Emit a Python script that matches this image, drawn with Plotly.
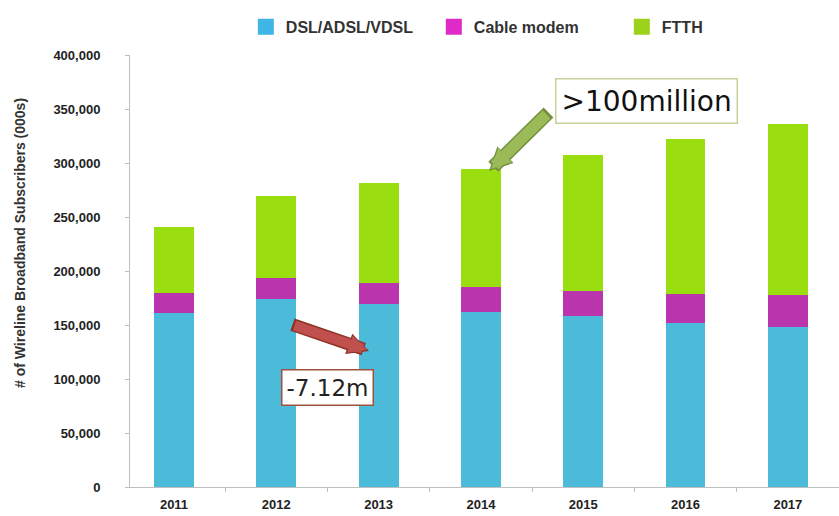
import plotly.graph_objects as go

years = ["2011", "2012", "2013", "2014", "2015", "2016", "2017"]
dsl = [161000, 173800, 169400, 162300, 158300, 151600, 147900]
cable = [18600, 19400, 19200, 22600, 23500, 26800, 29900]
ftth = [61400, 76200, 92600, 109300, 125600, 143500, 158300]

y_ticks = [0, 50000, 100000, 150000, 200000, 250000, 300000, 350000, 400000]

series_names = ["DSL/ADSL/VDSL", "Cable modem", "FTTH"]
bar_colors = ["#4CBBDA", "#BA34AE", "#9ADE10"]
legend_colors = ["#3FB6E6", "#E02AC8", "#9AD31A"]

FONT = "Liberation Sans, Arial, sans-serif"
BOX_FONT = "DejaVu Sans, sans-serif"

fig = go.Figure()
for name, vals, col in zip(series_names, [dsl, cable, ftth], bar_colors):
    fig.add_trace(go.Bar(name=name, x=years, y=vals, showlegend=False,
                         marker=dict(color=col, line=dict(width=0))))
# legend entries with large square symbols
for name, col in zip(series_names, legend_colors):
    fig.add_trace(go.Scatter(name=name, x=[None], y=[None], mode="markers",
                             marker=dict(symbol="square", size=16, color=col)))

W, H = 839, 516
L, R, T, B = 130, 0, 55, 29

fig.update_layout(
    width=W, height=H,
    barmode="stack",
    bargap=0.61,
    plot_bgcolor="white",
    paper_bgcolor="white",
    margin=dict(l=L, r=R, t=T, b=B, pad=0, autoexpand=False),
    font=dict(family=FONT, size=13, color="#222222"),
    legend=dict(
        orientation="h", xref="container", yref="container",
        x=0.293, xanchor="left", y=0.948, yanchor="middle",
        font=dict(family=FONT, size=16, color="#333333", weight="bold"),
        traceorder="normal", itemwidth=30, itemsizing="trace",
        entrywidth=143,
    ),
    xaxis=dict(
        type="category", range=[-0.43, 6.5], automargin=False,
        showline=True, linecolor="#BFBFBF", linewidth=1,
        ticks="outside", tickson="boundaries", ticklen=4, tickcolor="#BFBFBF",
        tickfont=dict(family=FONT, size=13, color="#222222", weight="bold"),
        ticklabelstandoff=5,
        showgrid=False,
    ),
    yaxis=dict(
        range=[0, 400000], tickvals=y_ticks, tickformat=",", automargin=False,
        showline=True, linecolor="#BFBFBF", linewidth=1,
        ticks="outside", ticklen=4, tickcolor="#BFBFBF",
        tickfont=dict(family=FONT, size=13, color="#222222", weight="bold"),
        ticklabelstandoff=22,
        showgrid=False, zeroline=False,
    ),
)

pw = W - L - R
ph = H - T - B

def px(xp):
    return (xp - L) / pw

def py(yp):
    return (H - B - yp) / ph

# y-axis title
fig.add_annotation(x=px(20), y=py(243), xref="paper", yref="paper",
                   xanchor="center", yanchor="middle",
                   text="# of Wireline Broadband Subscribers (000s)", textangle=-90,
                   showarrow=False,
                   font=dict(family=FONT, size=14, color="#333333", weight="bold"))

# green arrow pointing to 2014 bar top
fig.add_annotation(x=px(489), y=py(171), xref="paper", yref="paper", text="",
                   showarrow=True, ax=61, ay=-60, arrowhead=2, arrowsize=0.33,
                   arrowwidth=14, arrowcolor="#74903F", standoff=0)
fig.add_annotation(x=px(491), y=py(169), xref="paper", yref="paper", text="",
                   showarrow=True, ax=57, ay=-56, arrowhead=2, arrowsize=0.36,
                   arrowwidth=11, arrowcolor="#9BBB59", standoff=0)
# red arrow
fig.add_annotation(x=px(369), y=py(351), xref="paper", yref="paper", text="",
                   showarrow=True, ax=-78, ay=-27, arrowhead=2, arrowsize=0.33,
                   arrowwidth=13, arrowcolor="#8E3326", standoff=0)
fig.add_annotation(x=px(367), y=py(350), xref="paper", yref="paper", text="",
                   showarrow=True, ax=-74, ay=-25, arrowhead=2, arrowsize=0.36,
                   arrowwidth=10, arrowcolor="#C0504D", standoff=0)

fig.add_annotation(x=px(646), y=py(101), xref="paper", yref="paper",
                   xanchor="center", yanchor="middle",
                   text=">100million", showarrow=False,
                   font=dict(family=BOX_FONT, size=28, color="#111111"),
                   bgcolor="white", bordercolor="#C5D49A", borderwidth=1.5, borderpad=5)
fig.add_annotation(x=px(327), y=py(387), xref="paper", yref="paper",
                   xanchor="center", yanchor="middle",
                   text="-7.12m", showarrow=False,
                   font=dict(family=BOX_FONT, size=23, color="#222222"),
                   bgcolor="white", bordercolor="#A0503F", borderwidth=1.5, borderpad=4)

fig.write_html("out.html", config={"displayModeBar": False},
               post_script="document.body.style.margin='0';")
